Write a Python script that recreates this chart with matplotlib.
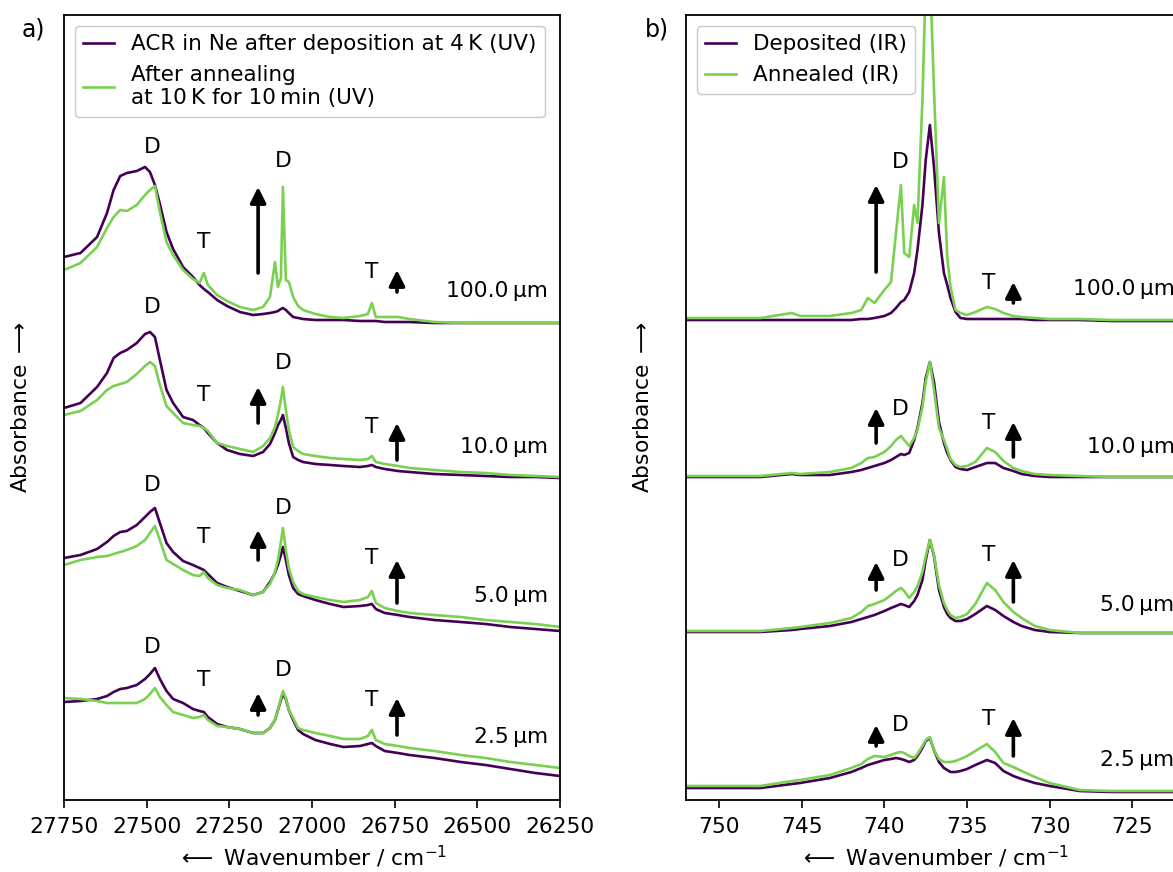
import matplotlib
matplotlib.use('Agg')
import matplotlib.pyplot as plt
import numpy as np

plt.rcParams['font.family'] = ['DejaVu Sans']
plt.rcParams['font.size'] = 15.7
plt.rcParams['mathtext.fontset'] = 'dejavusans'

# ---------------- data: UV panel (a) ----------------
uv_wavenumber = [27750, 27700, 27650, 27620, 27600, 27580, 27560, 27530, 27505, 27490,
                 27475, 27460, 27440, 27420, 27390, 27360, 27340, 27327, 27315, 27287,
                 27257, 27218, 27178, 27148, 27127, 27112, 27103, 27094, 27088, 27079,
                 27070, 27057, 27042, 27027, 26990, 26945, 26905, 26855, 26831, 26819,
                 26807, 26780, 26740, 26705, 26630, 26550, 26475, 26400, 26325, 26250]

uv_dep_100 = [0.63, 0.67, 0.83, 1.07, 1.30, 1.44, 1.47, 1.49, 1.53, 1.48,
              1.35, 1.16, 0.88, 0.71, 0.53, 0.43, 0.35, 0.31, 0.28, 0.20,
              0.14, 0.08, 0.05, 0.06, 0.07, 0.08, 0.09, 0.11, 0.12, 0.10,
              0.07, 0.03, 0.02, 0.01, 0.00, 0.00, 0.00, -0.01, -0.01, -0.01,
              -0.01, -0.02, -0.02, -0.02, -0.03, -0.03, -0.03, -0.03, -0.03, -0.03]
uv_ann_100 = [0.50, 0.57, 0.73, 0.92, 1.03, 1.10, 1.09, 1.15, 1.25, 1.30,
              1.34, 1.08, 0.78, 0.65, 0.50, 0.41, 0.37, 0.47, 0.35, 0.25,
              0.19, 0.13, 0.10, 0.13, 0.23, 0.58, 0.33, 0.42, 1.33, 0.40,
              0.38, 0.23, 0.14, 0.10, 0.06, 0.03, 0.02, 0.04, 0.06, 0.17,
              0.03, 0.03, 0.03, 0.01, -0.02, -0.03, -0.03, -0.03, -0.03, -0.03]
uv_dep_10 = [0.72, 0.77, 0.93, 1.07, 1.22, 1.27, 1.30, 1.37, 1.46, 1.48,
             1.43, 1.20, 0.90, 0.77, 0.63, 0.60, 0.55, 0.52, 0.47, 0.37,
             0.30, 0.26, 0.24, 0.28, 0.36, 0.47, 0.55, 0.60, 0.65, 0.52,
             0.37, 0.23, 0.20, 0.18, 0.16, 0.15, 0.14, 0.13, 0.14, 0.15,
             0.13, 0.11, 0.09, 0.08, 0.06, 0.05, 0.04, 0.03, 0.03, 0.02]
uv_ann_10 = [0.65, 0.69, 0.80, 0.90, 0.94, 0.96, 0.98, 1.06, 1.14, 1.18,
             1.14, 0.95, 0.74, 0.67, 0.57, 0.55, 0.54, 0.52, 0.49, 0.37,
             0.34, 0.31, 0.28, 0.34, 0.42, 0.53, 0.65, 0.80, 0.93, 0.70,
             0.50, 0.33, 0.29, 0.26, 0.24, 0.22, 0.21, 0.20, 0.21, 0.24,
             0.18, 0.16, 0.14, 0.12, 0.10, 0.08, 0.07, 0.05, 0.04, 0.03]
uv_dep_5 = [0.72, 0.75, 0.81, 0.88, 0.94, 0.98, 0.99, 1.05, 1.13, 1.18,
            1.22, 1.07, 0.87, 0.78, 0.69, 0.65, 0.62, 0.60, 0.56, 0.47,
            0.43, 0.39, 0.35, 0.38, 0.48, 0.57, 0.65, 0.75, 0.83, 0.70,
            0.55, 0.42, 0.36, 0.34, 0.30, 0.26, 0.23, 0.24, 0.25, 0.26,
            0.21, 0.17, 0.15, 0.13, 0.10, 0.08, 0.06, 0.03, 0.01, -0.01]
uv_ann_5 = [0.65, 0.70, 0.73, 0.74, 0.76, 0.78, 0.80, 0.84, 0.90, 0.97,
            1.04, 0.90, 0.70, 0.66, 0.60, 0.55, 0.54, 0.58, 0.52, 0.45,
            0.42, 0.40, 0.35, 0.38, 0.46, 0.58, 0.70, 0.88, 1.02, 0.80,
            0.62, 0.48, 0.39, 0.36, 0.33, 0.30, 0.28, 0.30, 0.33, 0.39,
            0.27, 0.22, 0.19, 0.17, 0.15, 0.13, 0.10, 0.08, 0.06, 0.03]
uv_dep_2p5 = [0.78, 0.79, 0.81, 0.84, 0.88, 0.91, 0.92, 0.95, 1.01, 1.06,
              1.12, 1.01, 0.89, 0.81, 0.77, 0.71, 0.69, 0.68, 0.63, 0.56,
              0.53, 0.51, 0.47, 0.47, 0.52, 0.60, 0.70, 0.80, 0.86, 0.81,
              0.70, 0.60, 0.50, 0.46, 0.40, 0.36, 0.33, 0.34, 0.36, 0.37,
              0.34, 0.29, 0.27, 0.25, 0.22, 0.18, 0.15, 0.11, 0.07, 0.04]
uv_ann_2p5 = [0.82, 0.81, 0.79, 0.77, 0.77, 0.77, 0.77, 0.77, 0.81, 0.86,
              0.92, 0.83, 0.75, 0.68, 0.65, 0.62, 0.63, 0.65, 0.60, 0.54,
              0.53, 0.51, 0.47, 0.47, 0.52, 0.60, 0.70, 0.82, 0.89, 0.82,
              0.70, 0.62, 0.52, 0.50, 0.47, 0.44, 0.41, 0.41, 0.44, 0.50,
              0.40, 0.36, 0.34, 0.32, 0.29, 0.25, 0.22, 0.18, 0.15, 0.12]

# ---------------- data: IR panel (b) ----------------
ir_wavenumber = [752.0, 750.0, 747.5, 745.6, 745.1, 743.3, 742.0, 741.4, 741.0, 740.6,
                 740.0, 739.6, 739.3, 739.0, 738.8, 738.5, 738.2, 738.0, 737.7, 737.5,
                 737.25, 737.0, 736.7, 736.4, 736.2, 736.0, 735.7, 735.4, 735.0, 734.5,
                 733.8, 733.3, 732.8, 732.2, 731.7, 730.9, 730.0, 728.2, 726.3, 722.0]

ir_dep_100 = [0.00, 0.00, 0.00, 0.00, 0.00, 0.00, 0.00, 0.01, 0.01, 0.02,
              0.04, 0.07, 0.12, 0.18, 0.20, 0.28, 0.47, 0.70, 1.15, 1.60,
              1.95, 1.53, 0.87, 0.47, 0.35, 0.22, 0.08, 0.02, 0.01, 0.01,
              0.01, 0.01, 0.01, 0.01, 0.01, 0.00, 0.00, 0.00, -0.01, -0.01]
ir_ann_100 = [0.02, 0.02, 0.02, 0.07, 0.04, 0.04, 0.07, 0.10, 0.22, 0.17,
              0.30, 0.38, 0.87, 1.35, 0.67, 0.63, 1.15, 0.97, 2.20, 3.40,
              3.50, 2.30, 0.97, 1.43, 0.63, 0.33, 0.10, 0.07, 0.05, 0.08,
              0.13, 0.11, 0.07, 0.04, 0.03, 0.02, 0.01, 0.01, 0.00, 0.00]
ir_dep_10 = [0.03, 0.03, 0.03, 0.06, 0.05, 0.05, 0.08, 0.10, 0.12, 0.14,
             0.17, 0.20, 0.23, 0.26, 0.25, 0.27, 0.40, 0.52, 0.77, 1.02,
             1.18, 0.98, 0.58, 0.37, 0.27, 0.20, 0.13, 0.11, 0.10, 0.13,
             0.17, 0.17, 0.12, 0.09, 0.06, 0.04, 0.03, 0.03, 0.03, 0.03]
ir_ann_10 = [0.04, 0.04, 0.04, 0.07, 0.06, 0.08, 0.12, 0.17, 0.22, 0.23,
             0.28, 0.34, 0.40, 0.44, 0.40, 0.34, 0.42, 0.50, 0.73, 0.98,
             1.18, 0.90, 0.52, 0.40, 0.31, 0.21, 0.15, 0.13, 0.14, 0.18,
             0.32, 0.28, 0.19, 0.12, 0.09, 0.06, 0.05, 0.04, 0.03, 0.03]
ir_dep_5 = [-0.02, -0.02, -0.02, 0.00, 0.01, 0.04, 0.08, 0.11, 0.13, 0.15,
            0.19, 0.22, 0.24, 0.26, 0.25, 0.23, 0.29, 0.35, 0.50, 0.70,
            0.90, 0.74, 0.40, 0.23, 0.16, 0.12, 0.09, 0.09, 0.11, 0.16,
            0.24, 0.20, 0.14, 0.08, 0.04, 0.00, -0.02, -0.03, -0.03, -0.03]
ir_ann_5 = [-0.01, -0.01, -0.01, 0.02, 0.03, 0.07, 0.12, 0.18, 0.24, 0.26,
            0.30, 0.35, 0.39, 0.42, 0.39, 0.32, 0.38, 0.44, 0.58, 0.74,
            0.90, 0.75, 0.45, 0.27, 0.20, 0.15, 0.12, 0.13, 0.16, 0.26,
            0.47, 0.40, 0.28, 0.18, 0.12, 0.04, 0.00, -0.03, -0.03, -0.03]
ir_dep_2p5 = [0.02, 0.02, 0.02, 0.06, 0.07, 0.12, 0.18, 0.22, 0.25, 0.27,
              0.30, 0.31, 0.32, 0.31, 0.30, 0.28, 0.30, 0.34, 0.42, 0.49,
              0.52, 0.40, 0.28, 0.22, 0.20, 0.18, 0.18, 0.19, 0.21, 0.25,
              0.30, 0.27, 0.19, 0.14, 0.11, 0.07, 0.04, -0.01, -0.02, -0.02]
ir_ann_2p5 = [0.04, 0.04, 0.04, 0.09, 0.10, 0.15, 0.22, 0.26, 0.31, 0.34,
              0.33, 0.35, 0.37, 0.38, 0.37, 0.34, 0.32, 0.36, 0.44, 0.50,
              0.53, 0.40, 0.31, 0.28, 0.28, 0.28, 0.29, 0.31, 0.34, 0.39,
              0.46, 0.38, 0.27, 0.23, 0.19, 0.13, 0.07, 0.00, -0.01, -0.01]

thickness_labels = ['100.0', '10.0', '5.0', '2.5']

# ---------------- layout / style ----------------
PURPLE = '#440154'
GREEN = '#7ad151'
uv_offsets = [4.80, 3.20, 1.70, 0.20]
ir_offsets = [4.80, 3.20, 1.70, 0.10]
YLIM = (0, 7.85)
FS = 15.7

uv_ann = dict(
    D1=(27484, [6.53, 4.93, 3.15, 1.53]),
    T1=(27327, [5.58, 4.05, 2.63, 1.20]),
    A1=(27163, [(5.27, 6.13), (3.77, 4.13), (2.40, 2.70), (0.85, 1.07)]),
    D2=(27088, [6.39, 4.37, 2.92, 1.30]),
    T2=(26819, [5.28, 3.73, 2.42, 1.00]),
    A2=(26743, [(5.08, 5.30), (3.40, 3.77), (1.97, 2.40), (0.65, 1.02)]),
    L=(26286, [5.09, 3.53, 2.04, 0.63]),
)
ir_ann = dict(
    D1=(739.05, [6.38, 3.91, 2.40, 0.75]),
    T1=(733.7, [5.17, 3.77, 2.45, 0.81]),
    A1=(740.5, [(5.28, 6.15), (3.57, 3.92), (2.10, 2.38), (0.54, 0.75)]),
    A2=(732.2, [(4.97, 5.18), (3.43, 3.78), (1.98, 2.40), (0.44, 0.82)]),
    L=(722.45, [5.11, 3.53, 1.95, 0.40]),
)

fig = plt.figure(figsize=(11.73, 8.72), dpi=100)
W, H = 1173.0, 872.0
axL = fig.add_axes([64 / W, 72 / H, 496 / W, 785 / H])
axR = fig.add_axes([686 / W, 72 / H, 496 / W, 785 / H])

uv_dep = [uv_dep_100, uv_dep_10, uv_dep_5, uv_dep_2p5]
uv_annl = [uv_ann_100, uv_ann_10, uv_ann_5, uv_ann_2p5]
ir_dep = [ir_dep_100, ir_dep_10, ir_dep_5, ir_dep_2p5]
ir_annl = [ir_ann_100, ir_ann_10, ir_ann_5, ir_ann_2p5]

LW = 1.9
for i in range(4):
    off = uv_offsets[i]
    l1, = axL.plot(uv_wavenumber, np.array(uv_dep[i]) + off, color=PURPLE, lw=LW)
    l2, = axL.plot(uv_wavenumber, np.array(uv_annl[i]) + off, color=GREEN, lw=LW)
    if i == 0:
        uv_handles = [l1, l2]
    off = ir_offsets[i]
    r1, = axR.plot(ir_wavenumber, np.array(ir_dep[i]) + off, color=PURPLE, lw=LW)
    r2, = axR.plot(ir_wavenumber, np.array(ir_annl[i]) + off, color=GREEN, lw=LW)
    if i == 0:
        ir_handles = [r1, r2]

arrow_props = dict(arrowstyle='-|>,head_width=0.3,head_length=0.6', lw=2.6,
                   color='black', shrinkA=0, shrinkB=0)


def annotate(ax, spec, keys_text, keys_arrow):
    for k in keys_text:
        x, ys = spec[k]
        for y in ys:
            ax.text(x, y, k[0], ha='center', va='center', fontsize=FS)
    for k in keys_arrow:
        x, pairs = spec[k]
        for (y0, y1) in pairs:
            ax.annotate('', xy=(x, y1), xytext=(x, y0), arrowprops=arrow_props)


annotate(axL, uv_ann, ['D1', 'T1', 'D2', 'T2'], ['A1', 'A2'])
annotate(axR, ir_ann, ['D1', 'T1'], ['A1', 'A2'])

xl, ys = uv_ann['L']
for lab, y in zip(thickness_labels, ys):
    axL.text(xl, y, lab + '\u2009µm', ha='right', va='center', fontsize=FS)
xr, ys = ir_ann['L']
for lab, y in zip(thickness_labels, ys):
    axR.text(xr, y, lab + '\u2009µm', ha='right', va='center', fontsize=FS, clip_on=False)

axL.set_xlim(27750, 26250)
axR.set_xlim(752, 722)
axL.set_xticks([27750, 27500, 27250, 27000, 26750, 26500, 26250])
axR.set_xticks([750, 745, 740, 735, 730, 725])
for ax in (axL, axR):
    ax.set_ylim(*YLIM)
    ax.set_yticks([])
    ax.tick_params(axis='x', direction='out', length=6, width=1.2, labelsize=FS, pad=6)
    for s in ax.spines.values():
        s.set_linewidth(1.3)
    ax.set_xlabel(r'$\longleftarrow$ Wavenumber / cm$^{-1}$', fontsize=FS, labelpad=5)
    ax.set_ylabel(r'Absorbance $\longrightarrow$', fontsize=FS)
    ax.yaxis.set_label_coords(-0.066, 0.5)

axL.legend(uv_handles, ['ACR in Ne after deposition at 4\u2009K (UV)',
                        'After annealing\nat 10\u2009K for 10\u2009min (UV)'],
           loc='upper left', fontsize=15.5, handlelength=1.4, borderaxespad=0.5,
           edgecolor='#bbbbbb', framealpha=0.8)
axR.legend(ir_handles, ['Deposited (IR)', 'Annealed (IR)'],
           loc='upper left', fontsize=15.5, handlelength=1.4, borderaxespad=0.5,
           edgecolor='#bbbbbb', framealpha=0.8)

fig.text(33 / W, 1 - 29 / H, 'a)', fontsize=17, ha='center', va='center')
fig.text(657 / W, 1 - 29 / H, 'b)', fontsize=17, ha='center', va='center')

fig.savefig('out.png', dpi=100)
